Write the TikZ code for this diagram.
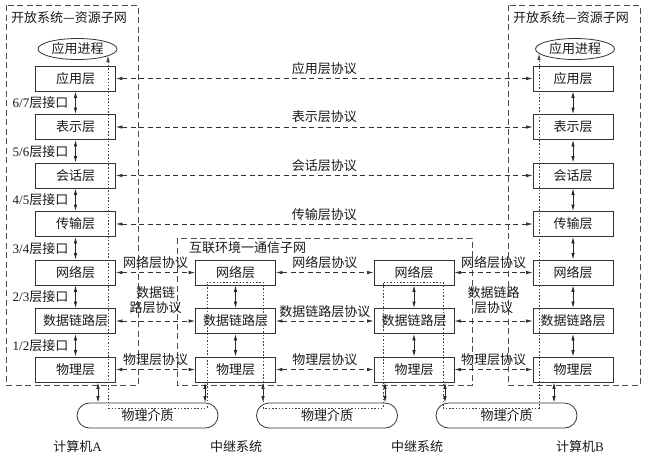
\documentclass[tikz,border=0pt]{standalone}
\usepackage{fontspec}
\setmainfont{Liberation Serif}
\newfontfamily\cjk{Noto Sans CJK SC}
\usetikzlibrary{arrows.meta,shapes.geometric,calc}
\begin{document}
\begin{tikzpicture}[x=1pt,y=-1pt,
  every node/.style={font=\cjk\fontsize{13}{15}\selectfont, text=black!90},
  layer/.style={draw=black!80, line width=0.8pt, minimum width=80pt, minimum height=25pt, inner sep=0pt},
  proc/.style={draw=black!80, ellipse, line width=0.8pt, minimum width=79pt, minimum height=21pt, inner sep=0pt},
  medium/.style={draw=black!80, line width=0.8pt, rounded corners=12.5pt, minimum width=141pt, minimum height=25pt, inner sep=0pt},
  region/.style={draw=black!70, line width=0.7pt, dash pattern=on 6pt off 3.5pt},
  proto/.style={draw=black!80, line width=0.7pt, dash pattern=on 5pt off 3.5pt, {Latex[length=6.5pt,width=3.5pt]}-{Latex[length=6.5pt,width=3.5pt]}},
  iface/.style={draw=black!85, line width=0.8pt, {Latex[length=6.5pt,width=3.5pt]}-{Latex[length=6.5pt,width=3.5pt]}},
  flow/.style={draw=black!75, line width=0.7pt, dash pattern=on 1.5pt off 1.8pt, {Latex[length=6.5pt,width=3.5pt]}-{Latex[length=6.5pt,width=3.5pt]}},
  plbl/.style={above=2.5pt, inner sep=1pt, align=center}
]
\useasboundingbox (0,0) rectangle (647,456);

% regions
\draw[region] (6,5) rectangle (138,385);
\draw[region] (508,5) rectangle (640,385);
\draw[region] (177,238) rectangle (472,385);
\node[anchor=west, inner sep=0pt] (tA) at (11,18) {开放系统—资源子网};
\node[anchor=west, inner sep=0pt] (tB) at (513,18) {开放系统—资源子网};
\node[anchor=west, inner sep=0pt] (tM) at (189,248) {互联环境一通信子网};

% processes
\node[proc] (eA) at (77.5,49) {应用进程};
\node[proc] (eB) at (575,49) {应用进程};

% host A
\node[layer] (a1) at (75.5,78.5) {应用层};
\node[layer] (a2) at (75.5,127) {表示层};
\node[layer] (a3) at (75.5,175.5) {会话层};
\node[layer] (a4) at (75.5,224) {传输层};
\node[layer] (a5) at (75.5,272.5) {网络层};
\node[layer] (a6) at (75.5,321) {数据链路层};
\node[layer] (a7) at (75.5,369.5) {物理层};
% host B
\node[layer] (b1) at (573,78.5) {应用层};
\node[layer] (b2) at (573,127) {表示层};
\node[layer] (b3) at (573,175.5) {会话层};
\node[layer] (b4) at (573,224) {传输层};
\node[layer] (b5) at (573,272.5) {网络层};
\node[layer] (b6) at (573,321) {数据链路层};
\node[layer] (b7) at (573,369.5) {物理层};
% relays
\node[layer] (r5) at (235.5,272.5) {网络层};
\node[layer] (r6) at (235.5,321) {数据链路层};
\node[layer] (r7) at (235.5,369.5) {物理层};
\node[layer] (s5) at (414,272.5) {网络层};
\node[layer] (s6) at (414,321) {数据链路层};
\node[layer] (s7) at (414,369.5) {物理层};

% media
\node[medium] (pL) at (147.5,415.5) {物理介质};
\node[medium] (pM) at (327,415.5) {物理介质};
\node[medium] (pR) at (506.5,415.5) {物理介质};

% interfaces host A
\foreach \u/\l in {a1/a2, a2/a3, a3/a4, a4/a5, a5/a6, a6/a7}{
  \draw[iface] (\u.south) -- (\l.north);
}
\node[anchor=east, inner sep=0pt] (i67) at ($(a1.south)!0.5!(a2.north)+(-7,0)$) {{\rmfamily 6/7}层接口};
\node[anchor=east, inner sep=0pt] (i56) at ($(a2.south)!0.5!(a3.north)+(-7,0)$) {{\rmfamily 5/6}层接口};
\node[anchor=east, inner sep=0pt] (i45) at ($(a3.south)!0.5!(a4.north)+(-7,0)$) {{\rmfamily 4/5}层接口};
\node[anchor=east, inner sep=0pt] (i34) at ($(a4.south)!0.5!(a5.north)+(-7,0)$) {{\rmfamily 3/4}层接口};
\node[anchor=east, inner sep=0pt] (i23) at ($(a5.south)!0.5!(a6.north)+(-7,0)$) {{\rmfamily 2/3}层接口};
\node[anchor=east, inner sep=0pt] (i12) at ($(a6.south)!0.5!(a7.north)+(-7,0)$) {{\rmfamily 1/2}层接口};
% interfaces host B and relays
\foreach \u/\l in {b1/b2, b2/b3, b3/b4, b4/b5, b5/b6, b6/b7, r5/r6, r6/r7, s5/s6, s6/s7}{
  \draw[iface] (\u.south) -- (\l.north);
}

% to media
\draw[iface] (98,0 |- a7.south) -- (98,0 |- pL.north);
\draw[iface] (205,0 |- r7.south) -- (205,0 |- pL.north);
\draw[iface] (263,0 |- r7.south) -- (263,0 |- pM.north);
\draw[iface] (385,0 |- s7.south) -- (385,0 |- pM.north);
\draw[iface] (445,0 |- s7.south) -- (445,0 |- pR.north);
\draw[iface] (554,0 |- b7.south) -- (554,0 |- pR.north);

% peer protocols
\draw[proto] (a1.east) -- node[plbl]{应用层协议} (b1.west);
\draw[proto] (a2.east) -- node[plbl]{表示层协议} (b2.west);
\draw[proto] (a3.east) -- node[plbl]{会话层协议} (b3.west);
\draw[proto] (a4.east) -- node[plbl]{传输层协议} (b4.west);
\draw[proto] (a5.east) -- node[plbl]{网络层协议} (r5.west);
\draw[proto] (r5.east) -- node[plbl]{网络层协议} (s5.west);
\draw[proto] (s5.east) -- node[plbl]{网络层协议} (b5.west);
\draw[proto] (a6.east) -- node[plbl, above=4pt]{数据链\\路层协议} (r6.west);
\draw[proto] (r6.east) -- node[plbl]{数据链路层协议} (s6.west);
\draw[proto] (s6.east) -- node[plbl, above=4pt]{数据链路\\层协议} (b6.west);
\draw[proto] (a7.east) -- node[plbl]{物理层协议} (r7.west);
\draw[proto] (r7.east) -- node[plbl]{物理层协议} (s7.west);
\draw[proto] (s7.east) -- node[plbl]{物理层协议} (b7.west);

% data flow path
\draw[flow] ($(eA.center)+(30.5,6.6)$) -- (108,408) -- (207,408) -- (207,282) -- (263,282)
  -- (263,408) -- (383,408) -- (383,282) -- (443,282) -- (443,408) -- (539,408)
  -- ($(eB.center)+(-36,4.6)$);

% bottom labels
\node (cA) at (77.5,447) {计算机{\rmfamily A}};
\node (z1) at (236,447) {中继系统};
\node (z2) at (417,447) {中继系统};
\node (cB) at (580,447) {计算机{\rmfamily B}};
\end{tikzpicture}
\end{document}
